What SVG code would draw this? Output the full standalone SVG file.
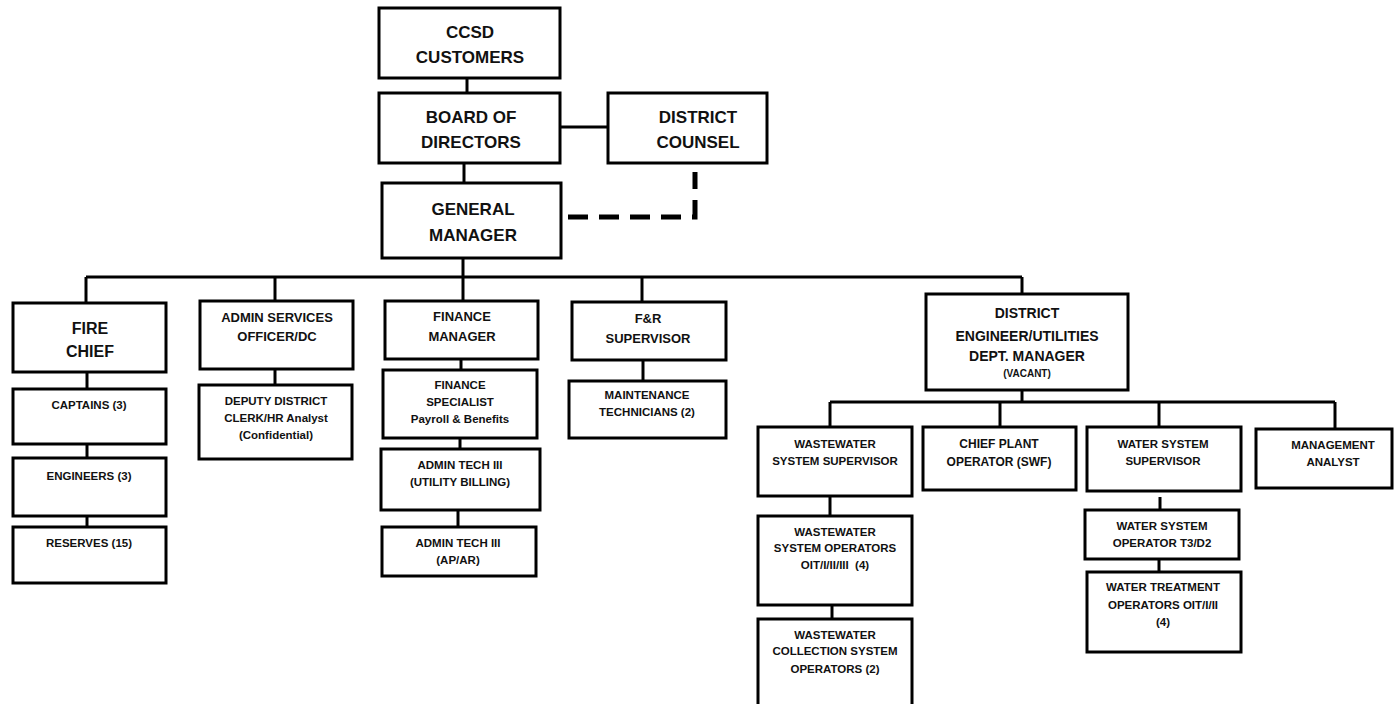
<svg xmlns="http://www.w3.org/2000/svg" width="1395" height="704" viewBox="0 0 1395 704">
<style>
rect{fill:#fff;stroke:#000;stroke-width:3}
text{font-family:"Liberation Sans",Arial,sans-serif;font-weight:bold;text-anchor:middle;fill:#111}
.l{font-size:17px}.m{font-size:13px}.s{font-size:11.5px}
.c line,.c path{stroke:#000;stroke-width:3;fill:none}
.c .d{stroke-width:5;stroke-dasharray:20 11}
</style>
<rect x="0" y="0" width="1395" height="704" style="stroke:none"/>
<g class="c" id="connectors">
<line x1="467" y1="78" x2="467" y2="93"/>
<line x1="560" y1="127" x2="608" y2="127"/>
<line x1="464" y1="163" x2="464" y2="183"/>
<line x1="463" y1="258" x2="463" y2="301"/>
<line x1="86" y1="277" x2="1022" y2="277"/>
<line x1="86" y1="277" x2="86" y2="303"/>
<line x1="275" y1="277" x2="275" y2="301"/>
<line x1="642" y1="277" x2="642" y2="302"/>
<line x1="1022" y1="277" x2="1022" y2="294"/>
<line x1="87" y1="372" x2="87" y2="389"/>
<line x1="87" y1="444" x2="87" y2="458"/>
<line x1="87" y1="516" x2="87" y2="527"/>
<line x1="275" y1="369" x2="275" y2="385"/>
<line x1="461" y1="359" x2="461" y2="370"/>
<line x1="460" y1="438" x2="460" y2="449"/>
<line x1="458" y1="510" x2="458" y2="527"/>
<line x1="643" y1="360" x2="643" y2="381"/>
<line x1="1022" y1="390" x2="1022" y2="402"/>
<line x1="830" y1="402" x2="1335" y2="402"/>
<line x1="830" y1="402" x2="830" y2="427"/>
<line x1="1000" y1="402" x2="1000" y2="427"/>
<line x1="1159" y1="402" x2="1159" y2="427"/>
<line x1="1335" y1="402" x2="1335" y2="429"/>
<line x1="830" y1="496" x2="830" y2="516"/>
<line x1="832" y1="605" x2="832" y2="619"/>
<line x1="1160" y1="497" x2="1160" y2="510"/>
<line x1="1159" y1="559" x2="1159" y2="572"/>
<path class="d" d="M568,217 H695 V172"/>
</g>
<g id="ccsd"><rect x="379" y="8" width="181" height="70"/><text class="l" x="470" y="38">CCSD</text><text class="l" x="470" y="63">CUSTOMERS</text></g>
<g id="board"><rect x="379" y="93" width="181" height="70"/><text class="l" x="471" y="123">BOARD OF</text><text class="l" x="471" y="148">DIRECTORS</text></g>
<g id="counsel"><rect x="608" y="93" width="159" height="70"/><text class="l" x="698" y="123">DISTRICT</text><text class="l" x="698" y="148">COUNSEL</text></g>
<g id="gm"><rect x="382" y="183" width="179" height="75"/><text class="l" x="473" y="215">GENERAL</text><text class="l" x="473" y="241">MANAGER</text></g>
<g id="fire"><rect x="13" y="303" width="153" height="69"/><text style="font-size:16px" x="90" y="334">FIRE</text><text style="font-size:16px" x="90" y="357">CHIEF</text></g>
<g id="captains"><rect x="13" y="389" width="153" height="55"/><text class="s" x="89" y="409">CAPTAINS (3)</text></g>
<g id="engineers"><rect x="13" y="458" width="153" height="58"/><text class="s" x="89" y="480">ENGINEERS (3)</text></g>
<g id="reserves"><rect x="13" y="527" width="153" height="56"/><text class="s" x="89" y="547">RESERVES (15)</text></g>
<g id="admin"><rect x="200" y="301" width="153" height="68"/><text class="m" x="277" y="322">ADMIN SERVICES</text><text class="m" x="277" y="341">OFFICER/DC</text></g>
<g id="deputy"><rect x="199" y="385" width="153" height="74"/><text class="s" x="276" y="405">DEPUTY DISTRICT</text><text class="s" x="276" y="422">CLERK/HR Analyst</text><text class="s" x="276" y="439">(Confidential)</text></g>
<g id="finmgr"><rect x="385" y="301" width="153" height="58"/><text class="m" x="462" y="321">FINANCE</text><text class="m" x="462" y="341">MANAGER</text></g>
<g id="finspec"><rect x="383" y="370" width="154" height="68"/><text class="s" x="460" y="389">FINANCE</text><text class="s" x="460" y="406">SPECIALIST</text><text class="s" x="460" y="423">Payroll &amp; Benefits</text></g>
<g id="tech1"><rect x="381" y="449" width="159" height="61"/><text class="s" x="460" y="469">ADMIN TECH III</text><text class="s" x="460" y="486">(UTILITY BILLING)</text></g>
<g id="tech2"><rect x="382" y="527" width="154" height="49"/><text class="s" x="458" y="547">ADMIN TECH III</text><text class="s" x="458" y="564">(AP/AR)</text></g>
<g id="fr"><rect x="572" y="302" width="154" height="58"/><text class="m" x="648" y="323">F&amp;R</text><text class="m" x="648" y="343">SUPERVISOR</text></g>
<g id="maint"><rect x="569" y="381" width="157" height="57"/><text class="s" x="647" y="399">MAINTENANCE</text><text class="s" x="647" y="416">TECHNICIANS (2)</text></g>
<g id="de"><rect x="926" y="294" width="202" height="96"/><text style="font-size:14px" x="1027" y="318">DISTRICT</text><text style="font-size:14px" x="1027" y="341">ENGINEER/UTILITIES</text><text style="font-size:14px" x="1027" y="361">DEPT. MANAGER</text><text style="font-size:10px" x="1027" y="377">(VACANT)</text></g>
<g id="wwsup"><rect x="758" y="427" width="154" height="69"/><text class="s" x="835" y="448">WASTEWATER</text><text class="s" x="835" y="465">SYSTEM SUPERVISOR</text></g>
<g id="chief"><rect x="923" y="427" width="153" height="63"/><text style="font-size:12px" x="999" y="448">CHIEF PLANT</text><text style="font-size:12px" x="999" y="466">OPERATOR (SWF)</text></g>
<g id="wssup"><rect x="1087" y="427" width="154" height="64"/><text class="s" x="1163" y="448">WATER SYSTEM</text><text class="s" x="1163" y="465">SUPERVISOR</text></g>
<g id="mgmt"><rect x="1256" y="429" width="136" height="59"/><text class="s" x="1333" y="449">MANAGEMENT</text><text class="s" x="1333" y="466">ANALYST</text></g>
<g id="wwops"><rect x="758" y="516" width="154" height="89"/><text class="s" x="835" y="536">WASTEWATER</text><text class="s" x="835" y="552">SYSTEM OPERATORS</text><text class="s" x="835" y="569" xml:space="preserve">OIT/I/II/III  (4)</text></g>
<g id="wwcoll"><rect x="758" y="619" width="154" height="88"/><text class="s" x="835" y="639">WASTEWATER</text><text class="s" x="835" y="655">COLLECTION SYSTEM</text><text class="s" x="835" y="673">OPERATORS (2)</text></g>
<g id="wsop"><rect x="1085" y="510" width="154" height="49"/><text class="s" x="1162" y="530">WATER SYSTEM</text><text class="s" x="1162" y="547">OPERATOR T3/D2</text></g>
<g id="wtreat"><rect x="1087" y="572" width="154" height="80"/><text class="s" x="1163" y="591">WATER TREATMENT</text><text class="s" x="1163" y="609">OPERATORS OIT/I/II</text><text class="s" x="1163" y="626">(4)</text></g>
</svg>
